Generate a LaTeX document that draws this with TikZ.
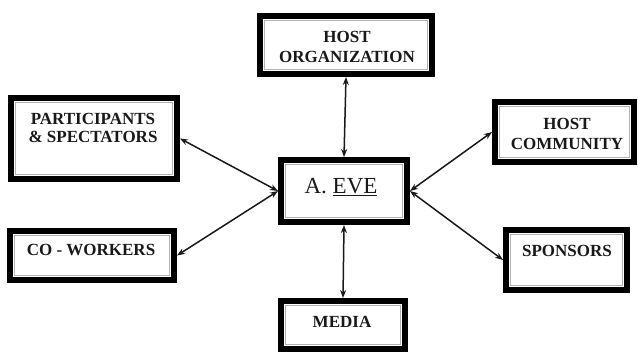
\documentclass[tikz,border=0pt]{standalone}
\usepackage{fontspec}
\setmainfont{Liberation Serif}
\usetikzlibrary{arrows.meta}
\tikzset{
  box/.style={draw=black, line width=6pt, fill=white, rectangle, inner sep=0pt,
    path picture={\draw[gray!60, line width=1.5pt]
      ([xshift=4.3pt,yshift=-4.3pt]path picture bounding box.north west) rectangle
      ([xshift=-4.3pt,yshift=4.3pt]path picture bounding box.south east);}},
  lbl/.style={align=center, inner sep=0pt, font=\fontsize{17}{20}\selectfont\bfseries, text=black!90},
  link/.style={line width=1.5pt, black!90, {Stealth[length=8pt,width=6pt]}-{Stealth[length=8pt,width=6pt]}}
}
\begin{document}
\begin{tikzpicture}[x=1pt,y=-1pt]
\useasboundingbox[fill=white] (0,0) rectangle (639,360);
% boxes
\node[box, minimum width=172pt, minimum height=58pt] (ho) at (346,45) {};
\node[box, minimum width=126pt, minimum height=62pt] (eve) at (344,191) {};
\node[box, minimum width=166pt, minimum height=81pt] (part) at (94,138.5) {};
\node[box, minimum width=139pt, minimum height=60pt] (hc) at (564.5,132) {};
\node[box, minimum width=164pt, minimum height=49pt] (cow) at (92,255.5) {};
\node[box, minimum width=121pt, minimum height=60pt] (sp) at (566.5,260) {};
\node[box, minimum width=124pt, minimum height=48pt] (med) at (343,325) {};
% texts
\node[lbl] (hot) at (347,46.5) {HOST\\ORGANIZATION};
\node[lbl, font=\fontsize{17}{18}\selectfont\bfseries] (partt) at (93,128) {PARTICIPANTS\\\& SPECTATORS};
\node[lbl] (hct) at (567,133.5) {HOST\\COMMUNITY};
\node[lbl] (cowt) at (91,250) {CO - WORKERS};
\node[lbl] (spt) at (567,251) {SPONSORS};
\node[lbl] (medt) at (342,322) {MEDIA};
\node[inner sep=0pt, font=\fontsize{23}{26}\selectfont, text=black!90] (evet) at (341,187) {A. \underline{EVE}};
% connectors
\draw[link] (ho.south) -- (eve.north);
\draw[link] (eve.south) -- (med.north);
\draw[link] (part.east) -- (eve.west);
\draw[link] (cow.east) -- (eve.west);
\draw[link] (hc.west) -- (eve.east);
\draw[link] (sp.west) -- (eve.east);
\end{tikzpicture}
\end{document}
